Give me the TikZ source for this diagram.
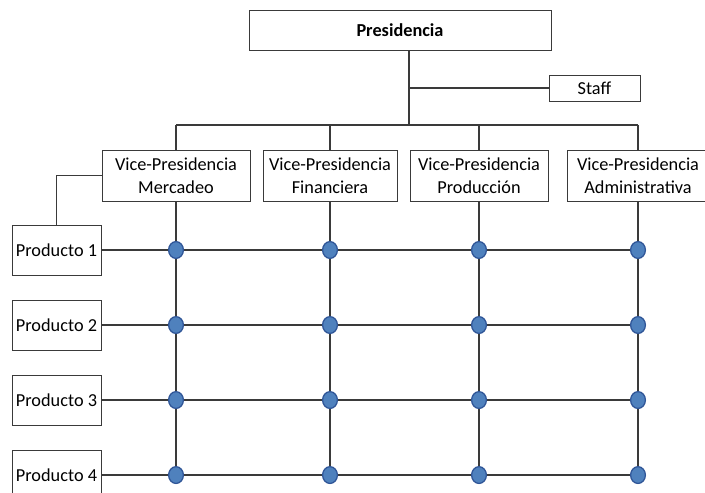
\documentclass[tikz,border=0pt]{standalone}
\usepackage{fontspec}
\setmainfont{Carlito}
\usetikzlibrary{positioning, shapes.geometric}
\pgfdeclarelayer{background}
\pgfsetlayers{background,main}
\definecolor{linegray}{HTML}{3A3A3A}
\definecolor{dotblue}{HTML}{4F81BD}
\definecolor{dotedge}{HTML}{2F5597}
\tikzset{
	x=0.025cm, y=-0.025cm, % one unit is one pixel of the sketch, y grows downwards
	node distance=1.875cm, % spacing of the product rows
	unit/.style={draw=linegray, line width=0.6pt, fill=white, align=center, inner sep=1pt, font=\fontsize{13}{16}\selectfont}, % every box of the chart
	vp/.style={unit, minimum height=1.275cm}, % vice-presidencies
	product/.style={unit, minimum width=2.225cm, minimum height=1.25cm}, % product lines
	crossing/.style={ellipse, draw=dotedge, line width=0.9pt, fill=dotblue, minimum width=0.37cm, minimum height=0.42cm, inner sep=0pt}, % matrix crossings
	link/.style={draw=linegray, line width=1pt}, % connectors
}

\begin{document}
\begin{tikzpicture}
	\useasboundingbox (0,0) rectangle (705,493);

	\node[unit, font=\fontsize{13}{16}\selectfont\bfseries, minimum width=7.55cm, minimum height=1cm] (presidencia) at (400,30) {Presidencia};
	\node[unit, minimum width=2.275cm, minimum height=0.65cm] (staff) at (594.5,88) {Staff};
	\coordinate (trunk) at (409,125);

	\node[vp, minimum width=3.7cm] (vp1) at (176,175.5) {Vice-Presidencia\\Mercadeo};
	\node[vp, minimum width=3.35cm] (vp2) at (330,175.5) {Vice-Presidencia\\Financiera};
	\node[vp, minimum width=3.45cm] (vp3) at (479,175.5) {Vice-Presidencia\\Producción};
	\node[vp, minimum width=3.55cm] (vp4) at (638,175.5) {Vice-Presidencia\\Administrativa};

	\node[product] (p1) at (56.5,250) {Producto 1};
	\node[product, below of=p1] (p2) {Producto 2};
	\node[product, below of=p2] (p3) {Producto 3};
	\node[product, below of=p3] (p4) {Producto 4};

	\foreach \r in {1,...,4}
		\foreach \c in {1,...,4}
			\node[crossing] (d\r\c) at (vp\c |- p\r) {};

	\begin{pgfonlayer}{background}
		\draw[link] (presidencia.south -| trunk) -- (trunk);
		\draw[link] (trunk |- staff) -- (staff);
		\draw[link] (vp1 |- trunk) -- (vp4 |- trunk);
		\draw[link] (vp1) -| (p1);
		\foreach \c in {1,...,4}
			\draw[link] (vp\c |- trunk) -- (vp\c)
				(vp\c) -- (d4\c.center);
		\foreach \r in {1,...,4}
			\draw[link] (p\r) -- (d\r4.center);
	\end{pgfonlayer}
\end{tikzpicture}
\end{document}
